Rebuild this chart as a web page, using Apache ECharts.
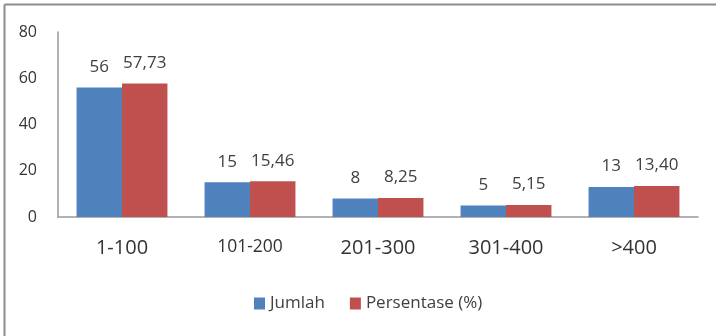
<!DOCTYPE html>
<html>
<head>
<meta charset="utf-8">
<script src="https://cdn.jsdelivr.net/npm/echarts@6/dist/echarts.min.js"></script>
<style>
html,body{margin:0;padding:0;background:#fff;}
#c{width:716px;height:336px;}
</style>
</head>
<body>
<div id="c"></div>
<script>
var categories = ['1-100', '101-200', '201-300', '301-400', '>400'];
var jumlah = [56, 15, 8, 5, 13];
var persentase = [57.73, 15.46, 8.25, 5.15, 13.40];
var persentaseLabels = ['57,73', '15,46', '8,25', '5,15', '13,40'];
var seriesNames = ['Jumlah', 'Persentase (%)'];
var yTicks = [0, 20, 40, 60, 80];

var font = 'Open Sans, Noto Sans, sans-serif';
var chart = echarts.init(document.getElementById('c'), null, {renderer: 'canvas'});
chart.setOption({
  animation: false,
  backgroundColor: '#fff',
  graphic: [
    {type: 'line', shape: {x1: 4.5, y1: 4.5, x2: 716, y2: 4.5}, style: {stroke: '#8c8c8c', lineWidth: 2}},
    {type: 'line', shape: {x1: 4.5, y1: 4.5, x2: 4.5, y2: 336}, style: {stroke: '#8c8c8c', lineWidth: 2}}
  ],
  legend: {
    data: seriesNames,
    left: 249,
    top: 290,
    itemWidth: 11,
    itemHeight: 12,
    itemGap: 25,
    icon: 'rect',
    textStyle: {fontFamily: font, fontSize: 17, color: '#404040', padding: [0, 0, 0, 0]}
  },
  grid: {left: 58, right: 18, top: 32, bottom: 119, containLabel: false},
  xAxis: {
    type: 'category',
    data: categories.map(function (c) {
      return c === '101-200' ? {value: c, textStyle: {fontSize: 17.5}} : c;
    }),
    axisLine: {lineStyle: {color: '#9a9a9a', width: 1.5}},
    axisTick: {show: false},
    axisLabel: {fontFamily: font, fontSize: 20, color: '#333', margin: 21}
  },
  yAxis: {
    type: 'value',
    min: yTicks[0],
    max: yTicks[yTicks.length - 1],
    interval: 20,
    splitLine: {show: false},
    axisLine: {show: true, lineStyle: {color: '#9a9a9a', width: 1.5}},
    axisTick: {show: false},
    axisLabel: {fontFamily: font, fontSize: 16, color: '#333', margin: 21}
  },
  series: [
    {
      name: seriesNames[0],
      type: 'bar',
      data: jumlah,
      barGap: '0%',
      barCategoryGap: '29%',
      itemStyle: {color: '#4F81BD'},
      label: {show: true, position: 'top', distance: 12, fontFamily: font, fontSize: 17, color: '#404040'}
    },
    {
      name: seriesNames[1],
      type: 'bar',
      data: persentase,
      barGap: '0%',
      barCategoryGap: '29%',
      itemStyle: {color: '#C0504D'},
      label: {show: true, position: 'top', distance: 12, fontFamily: font, fontSize: 17, color: '#404040',
        formatter: function (p) { return persentaseLabels[p.dataIndex]; }}
    }
  ]
});
</script>
</body>
</html>
